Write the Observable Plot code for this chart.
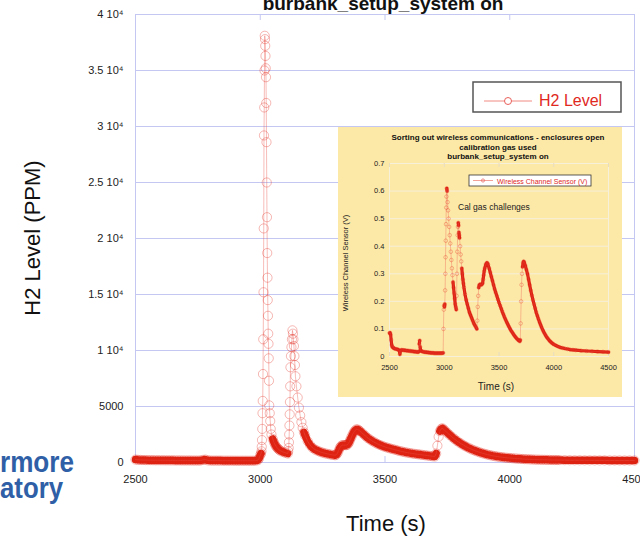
<!DOCTYPE html>
<html><head><meta charset="utf-8">
<script src="https://cdn.jsdelivr.net/npm/d3@7"></script>
<script src="https://cdn.jsdelivr.net/npm/@observablehq/plot@0.6"></script>
<style>
body{margin:0;background:#fff;}
#wrap{position:relative;width:640px;height:538px;overflow:hidden;background:#fff;font-family:"Liberation Sans",Arial,sans-serif;}
.layer{position:absolute;left:0;top:0;}
#inset{position:absolute;left:338px;top:127px;width:284px;height:270px;background:#fde9a7;}
</style></head><body><div id="wrap"></div>
<script>
// ---- Main chart: H2 level (PPM) vs time (s) ----
const timeS = [2500,2510,2520,2530,2540,2550,2560,2570,2580,2590,2600,2610,2620,2630,2640,2650,2660,2670,2680,2690,2700,2710,2720,2730,2740,2750,2760,2770,2780,2790,2800,2810,2820,2830,2840,2850,2860,2870,2880,2890,2900,2910,2920,2930,2940,2950,2960,2970,2980,2990,2995,3000,3003,3005,3006,3007,3008,3009,3010,3011,3012,3013,3014,3015,3016,3017,3018,3019,3020,3021,3022,3023,3024,3025,3026,3027,3028,3029,3030,3031,3032,3033,3034,3035,3036,3038,3040,3042,3045,3050,3055,3060,3065,3070,3075,3080,3090,3100,3110,3112,3114,3115,3116,3117,3118,3119,3120,3121,3123,3125,3127,3129,3131,3133,3135,3137,3139,3141,3145,3150,3155,3160,3165,3170,3175,3180,3190,3200,3210,3220,3230,3240,3250,3260,3270,3280,3290,3300,3305,3310,3315,3320,3325,3330,3335,3340,3345,3350,3355,3360,3365,3370,3375,3380,3385,3390,3395,3400,3410,3420,3430,3440,3450,3460,3470,3480,3490,3500,3510,3520,3530,3540,3550,3560,3570,3580,3590,3600,3610,3620,3630,3640,3650,3660,3670,3680,3690,3700,3705,3710,3715,3720,3725,3730,3735,3740,3750,3760,3770,3780,3790,3800,3810,3820,3830,3840,3850,3860,3870,3880,3890,3900,3910,3920,3930,3940,3950,3960,3970,3980,3990,4000,4010,4020,4030,4040,4050,4060,4070,4080,4090,4100,4110,4120,4130,4140,4150,4160,4170,4180,4190,4200,4220,4240,4260,4280,4300,4320,4340,4360,4380,4400,4420,4440,4460,4480,4500];
const h2Ppm = [260,240,230,220,215,210,210,205,200,200,200,195,195,190,190,190,185,185,185,180,180,180,180,175,175,175,175,230,260,190,175,170,170,170,170,165,165,165,165,165,160,160,160,160,160,160,160,160,165,200,350,650,800,1000,1400,2000,3000,4400,5500,7900,11000,15200,20900,29200,31700,35000,38100,37800,37200,36300,35200,34400,32100,28600,25000,21900,18700,16500,14500,13100,11500,10600,9300,7300,5100,4400,3700,3000,2500,2100,1800,1550,1380,1250,1150,1060,950,870,800,1000,1300,1800,2500,3300,4300,5400,6800,8500,9500,10300,11000,11800,11500,11000,10400,9500,8700,7700,6800,5800,4900,4200,3600,3100,2700,2400,1900,1550,1300,1150,1050,950,880,820,770,720,680,650,700,850,1100,1350,1500,1550,1550,1550,1550,1600,1750,2000,2250,2500,2700,2850,2950,2950,2880,2800,2600,2400,2200,2050,1900,1780,1660,1560,1470,1390,1320,1260,1200,1140,1080,1020,970,920,880,840,800,770,740,710,680,650,620,590,560,540,800,1500,2300,2800,3000,3050,2950,2850,2650,2450,2250,2070,1900,1750,1610,1480,1360,1250,1150,1060,980,900,830,770,710,660,610,570,530,500,470,440,420,400,380,360,345,330,315,300,290,280,270,260,255,250,245,240,235,230,225,220,220,215,210,205,200,200,195,195,190,190,190,185,185,185,180,180,180];
const mainXTicks = [2500,3000,3500,4000,4500];
const mainYTicks = [0,5000,10000,15000,20000,25000,30000,35000,40000];

// ---- Inset chart: wireless channel sensor (V) vs time (s) ----
const insetTimeS = [2500,2505,2510,2515,2520,2525,2530,2540,2550,2560,2570,2580,2590,2595,2600,2610,2620,2630,2640,2650,2660,2670,2680,2690,2700,2710,2720,2730,2740,2750,2760,2768,2772,2776,2780,2784,2790,2800,2810,2820,2830,2840,2850,2860,2870,2880,2890,2900,2910,2920,2930,2940,2950,2960,2970,2980,2990,2993,2996,2999,3002,3005,3008,3010,3012,3014,3016,3018,3020,3023,3026,3030,3035,3040,3045,3050,3055,3060,3065,3070,3075,3080,3085,3090,3095,3100,3105,3110,3113,3116,3119,3122,3125,3128,3131,3134,3137,3140,3145,3150,3155,3160,3165,3170,3175,3180,3190,3200,3210,3220,3230,3240,3250,3260,3270,3280,3290,3298,3302,3306,3310,3315,3320,3330,3340,3350,3355,3360,3365,3370,3380,3390,3395,3400,3410,3420,3430,3440,3450,3460,3470,3480,3490,3500,3510,3520,3530,3540,3550,3560,3570,3580,3590,3600,3610,3620,3630,3640,3650,3660,3670,3680,3690,3694,3698,3702,3706,3710,3715,3720,3725,3730,3740,3750,3760,3770,3780,3790,3800,3810,3820,3830,3840,3850,3860,3870,3880,3890,3900,3910,3920,3930,3940,3950,3960,3970,3980,3990,4000,4020,4040,4060,4080,4100,4125,4150,4175,4200,4250,4300,4350,4400,4450,4500];
const insetVolts = [0.085,0.086,0.08,0.06,0.042,0.036,0.033,0.03,0.028,0.027,0.026,0.025,0.02,0.008,0.022,0.024,0.023,0.023,0.022,0.022,0.021,0.021,0.02,0.02,0.019,0.019,0.018,0.018,0.017,0.017,0.016,0.018,0.045,0.058,0.035,0.022,0.02,0.018,0.017,0.016,0.016,0.015,0.015,0.014,0.014,0.013,0.013,0.013,0.012,0.012,0.012,0.012,0.012,0.012,0.012,0.012,0.013,0.1,0.17,0.185,0.18,0.19,0.24,0.3,0.36,0.42,0.48,0.54,0.58,0.61,0.6,0.56,0.53,0.5,0.47,0.44,0.41,0.38,0.35,0.32,0.295,0.27,0.25,0.23,0.21,0.19,0.18,0.17,0.22,0.3,0.38,0.44,0.47,0.485,0.475,0.45,0.44,0.43,0.4,0.37,0.345,0.32,0.3,0.28,0.265,0.25,0.225,0.205,0.19,0.175,0.16,0.15,0.14,0.13,0.12,0.113,0.106,0.1,0.13,0.18,0.22,0.25,0.26,0.262,0.26,0.265,0.28,0.295,0.31,0.32,0.335,0.34,0.338,0.333,0.32,0.305,0.29,0.275,0.26,0.245,0.232,0.22,0.208,0.196,0.185,0.174,0.163,0.153,0.143,0.134,0.125,0.117,0.109,0.101,0.094,0.088,0.082,0.076,0.071,0.066,0.062,0.058,0.055,0.06,0.12,0.2,0.26,0.3,0.325,0.34,0.345,0.342,0.33,0.315,0.3,0.28,0.26,0.24,0.222,0.205,0.19,0.175,0.16,0.148,0.136,0.125,0.115,0.105,0.096,0.088,0.081,0.074,0.068,0.063,0.058,0.054,0.05,0.047,0.044,0.04,0.036,0.033,0.031,0.029,0.027,0.025,0.024,0.023,0.021,0.02,0.019,0.018,0.017,0.016];
const insetXTicks = [2500,3000,3500,4000,4500];
const insetYTicks = [0,0.1,0.2,0.3,0.4,0.5,0.6,0.7];

// split a series into slowly-varying runs (drawn as the dense marker band);
// runs of a single point are dropped
function bandRuns(ts, vs, maxRate) {
  const pts = []; let run = 0;
  for (let i = 0; i < ts.length; i++) {
    if (i > 0 && Math.abs(vs[i] - vs[i-1]) / (ts[i] - ts[i-1]) > maxRate) run++;
    pts.push({t: ts[i], v: vs[i], run});
  }
  const counts = d3.rollup(pts, g => g.length, d => d.run);
  return pts.filter(d => counts.get(d.run) > 1);
}

const RED = "#dd2211";
const GRID = "#c3c7f2";
const FONT = "'Liberation Sans', Arial, sans-serif";
const wrap = document.getElementById("wrap");

const mainData = timeS.map((t, i) => ({t, v: h2Ppm[i]}));
const mainBand = bandRuns(timeS, h2Ppm, 70);
const yFmt = d => d >= 10000 ? `${d / 10000} 10\u2074` : String(d);

const main = Plot.plot({
  width: 640, height: 538,
  marginTop: 14, marginRight: 6, marginBottom: 76, marginLeft: 135,
  style: {fontFamily: FONT, fontSize: "11px", color: "#222", background: "transparent", overflow: "visible"},
  x: {domain: [2500, 4500]},
  y: {domain: [0, 40000]},
  marks: [
    Plot.gridY(mainYTicks, {stroke: GRID, strokeOpacity: 1}),
    Plot.frame({stroke: GRID}),
    Plot.ruleX(mainXTicks, {stroke: GRID, insetTop: 442}),
    Plot.ruleX(mainXTicks, {stroke: GRID, insetBottom: 442}),
    Plot.axisX(mainXTicks, {tickSize: 0, tickPadding: 13, tickFormat: d => String(d), label: null}),
    Plot.axisY(mainYTicks, {tickSize: 0, tickPadding: 12, tickFormat: yFmt, label: null}),
    Plot.line(mainBand, {x: "t", y: "v", z: "run", stroke: RED, strokeWidth: 7.5, strokeLinecap: "round", strokeLinejoin: "round"}),
    Plot.line(mainData, {x: "t", y: "v", stroke: "#ea5a50", strokeOpacity: 0.4, strokeWidth: 1}),
    Plot.dot(mainData, {x: "t", y: "v", r: 4.6, stroke: "#e0281a", strokeOpacity: 0.33, fill: "none", strokeWidth: 1})
  ]
});
main.classList.add("layer");
wrap.appendChild(main);

// overlay texts for the main chart
const NS = "http://www.w3.org/2000/svg";
function svgLayer(w, h) {
  const s = document.createElementNS(NS, "svg");
  s.setAttribute("width", w); s.setAttribute("height", h);
  s.setAttribute("class", "layer");
  s.style.fontFamily = FONT;
  s.style.overflow = "visible";
  return s;
}
function el(parent, tag, attrs, text) {
  const e = document.createElementNS(NS, tag);
  for (const k in attrs) e.setAttribute(k, attrs[k]);
  if (text != null) e.textContent = text;
  parent.appendChild(e);
  return e;
}
const over = svgLayer(640, 538);
el(over, "text", {x: 383, y: 9.5, "text-anchor": "middle", "font-size": 19, "font-weight": "bold", fill: "#111"}, "burbank_setup_system on");
el(over, "text", {transform: "translate(40,238) rotate(-90)", "text-anchor": "middle", "font-size": 22, fill: "#111"}, "H2 Level (PPM)");
el(over, "text", {x: 386, y: 531, "text-anchor": "middle", "font-size": 22, fill: "#111"}, "Time (s)");
el(over, "text", {x: 0, y: 472, "font-size": 29, "font-weight": "bold", fill: "#2f5fa6", textLength: 74, lengthAdjust: "spacingAndGlyphs"}, "rmore");
el(over, "text", {x: 0, y: 498, "font-size": 29, "font-weight": "bold", fill: "#2f5fa6", textLength: 63, lengthAdjust: "spacingAndGlyphs"}, "atory");
// legend
el(over, "rect", {x: 473, y: 82, width: 148, height: 30, fill: "#fff", stroke: "#555", "stroke-width": 1.5});
el(over, "line", {x1: 484, x2: 532, y1: 101, y2: 101, stroke: "#f08a80", "stroke-width": 1});
el(over, "circle", {cx: 508, cy: 101, r: 3.5, fill: "#fff", stroke: "#e8605a", "stroke-width": 1});
el(over, "text", {x: 539, y: 106, "font-size": 16, fill: "#e0281e"}, "H2 Level");
wrap.appendChild(over);

// ---- Inset ----
const inset = document.createElement("div");
inset.id = "inset";
wrap.appendChild(inset);
const IGRID = "#f6efd9";
const insetData = insetTimeS.map((t, i) => ({t, v: insetVolts[i]}));
const insetBand = bandRuns(insetTimeS, insetVolts, 0.0045);
const ip = Plot.plot({
  width: 284, height: 270,
  marginTop: 36, marginRight: 14, marginBottom: 41, marginLeft: 51,
  style: {fontFamily: FONT, fontSize: "7.5px", color: "#222", background: "transparent", overflow: "visible"},
  x: {domain: [2500, 4500]},
  y: {domain: [0, 0.7]},
  marks: [
    Plot.gridY(insetYTicks, {stroke: IGRID, strokeOpacity: 1}),
    Plot.frame({stroke: IGRID}),
    Plot.ruleX(insetXTicks, {stroke: "#e6dcc0", insetTop: 189}),
    Plot.ruleX(insetXTicks, {stroke: "#e6dcc0", insetBottom: 189}),
    Plot.axisX(insetXTicks, {tickSize: 0, tickPadding: 8, tickFormat: d => String(d), label: null}),
    Plot.axisY(insetYTicks, {tickSize: 0, tickPadding: 5, tickFormat: d => String(d), label: null}),
    Plot.line(insetBand, {x: "t", y: "v", z: "run", stroke: RED, strokeWidth: 3.2, strokeLinecap: "round", strokeLinejoin: "round"}),
    Plot.line(insetData, {x: "t", y: "v", stroke: "#ea5a50", strokeOpacity: 0.45, strokeWidth: 0.8}),
    Plot.dot(insetData, {x: "t", y: "v", r: 1.8, stroke: "#e0281a", strokeOpacity: 0.38, fill: "none", strokeWidth: 0.8})
  ]
});
ip.classList.add("layer");
inset.appendChild(ip);
const io = svgLayer(284, 270);
el(io, "text", {x: 160, y: 13, "text-anchor": "middle", "font-size": 8, "font-weight": "bold", fill: "#111"}, "Sorting out wireless communications - enclosures open");
el(io, "text", {x: 160, y: 22.5, "text-anchor": "middle", "font-size": 8, "font-weight": "bold", fill: "#111"}, "calibration gas used");
el(io, "text", {x: 160, y: 32, "text-anchor": "middle", "font-size": 8, "font-weight": "bold", fill: "#111"}, "burbank_setup_system on");
el(io, "text", {transform: "translate(10,136) rotate(-90)", "text-anchor": "middle", "font-size": 7.5, fill: "#222"}, "Wireless Channel Sensor (V)");
el(io, "text", {x: 158, y: 263, "text-anchor": "middle", "font-size": 10, fill: "#222"}, "Time (s)");
el(io, "text", {x: 120, y: 83, "font-size": 8.5, fill: "#222"}, "Cal gas challenges");
el(io, "rect", {x: 131, y: 48, width: 122, height: 11, fill: "#fff", stroke: "#333", "stroke-width": 0.8});
el(io, "line", {x1: 135, x2: 155, y1: 53.5, y2: 53.5, stroke: "#f08a80", "stroke-width": 0.8});
el(io, "circle", {cx: 145, cy: 53.5, r: 1.6, fill: "none", stroke: "#e8605a", "stroke-width": 0.7});
el(io, "text", {x: 159, y: 56.5, "font-size": 7, fill: "#e0281e"}, "Wireless Channel Sensor (V)");
inset.appendChild(io);
</script></body></html>
